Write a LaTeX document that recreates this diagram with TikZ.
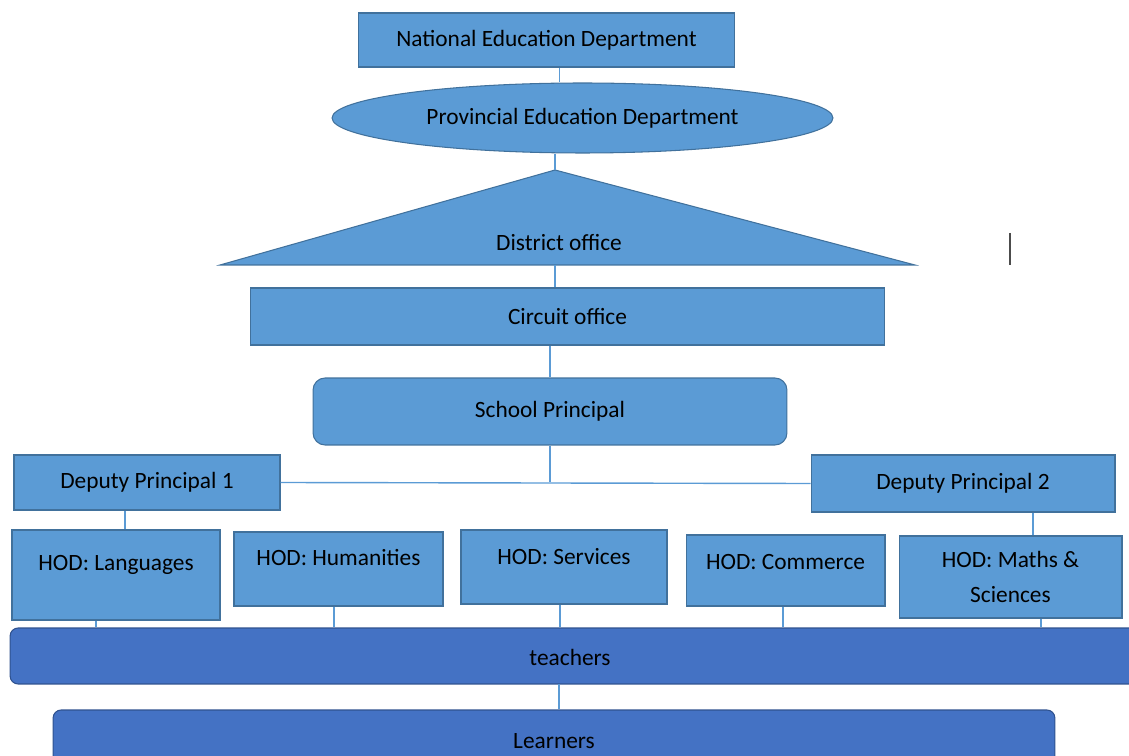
\documentclass[tikz,border=0pt]{standalone}
\usepackage{fontspec}
\setmainfont{Carlito}
\usetikzlibrary{shapes.geometric}
\usetikzlibrary{calc}
\definecolor{boxblue}{HTML}{5B9BD5}
\definecolor{boxedge}{HTML}{41719C}
\definecolor{darkblue}{HTML}{4472C4}
\definecolor{darkedge}{HTML}{2F528F}
\tikzset{
	box/.style = {draw = boxedge, fill = boxblue, line width = 0.6pt, inner sep = 0pt, align = center},
	lowbox/.style = {draw = darkedge, fill = darkblue, line width = 0.6pt, inner sep = 0pt, rounded corners = 0.16cm},
	link/.style = {boxblue, line width = 0.8pt}
}

\begin{document}
\begin{tikzpicture}[x = 0.02cm, y = -0.02cm, font = {\fontsize{13.3pt}{20}\selectfont}]
\useasboundingbox (0,0) rectangle (1129,756);
\clip (0,0) rectangle (1129,756);

\node[box, minimum width = 7.54cm, minimum height = 1.08cm] (NED) at (546.5, 40) {National Education Department};
\node[box, ellipse, minimum width = 10.02cm, minimum height = 1.4cm] (PED) at (582.5, 118) {Provincial Education Department};

% district office triangle
\coordinate (DOtop) at (555, 170);
\coordinate (DObase) at (555, 265);
\filldraw[draw = boxedge, fill = boxblue, line width = 0.6pt] (DOtop) -- (915, 265) -- (220, 265) -- cycle;
\node (DO) at (559, 243) {District office};

\node[box, minimum width = 12.7cm, minimum height = 1.14cm] (CO) at (567.5, 316.5) {Circuit office};
\node[box, rounded corners = 0.24cm, minimum width = 9.48cm, minimum height = 1.34cm] (SP) at (550, 411.5) {School Principal};

\node[box, minimum width = 5.32cm, minimum height = 1.1cm] (DP1) at (147, 482.5) {Deputy Principal 1};
\node[box, minimum width = 6.08cm, minimum height = 1.14cm] (DP2) at (963, 483.5) {Deputy Principal 2};

\node[box, minimum width = 4.16cm, minimum height = 1.8cm] (HL) at (116, 575) {};
\node[box, minimum width = 4.18cm, minimum height = 1.48cm] (HH) at (338.5, 569) {};
\node[box, minimum width = 4.12cm, minimum height = 1.48cm] (HS) at (564, 567) {};
\node[box, minimum width = 3.98cm, minimum height = 1.42cm] (HC) at (785.5, 570.5) {};
\node[box, minimum width = 4.46cm, minimum height = 1.64cm] (HM) at (1010.5, 577) {HOD: Maths \&\\Sciences};

\node (HL-txt) at ($(HL.north)+(0,35)$) {HOD: Languages};
\node (HH-txt) at ($(HH.north)+(0,26)$) {HOD: Humanities};
\node (HS-txt) at ($(HS.north)+(0,27)$) {HOD: Services};
\node (HC-txt) at ($(HC.north)+(0,28)$) {HOD: Commerce};

% teachers runs off the right edge
\node[lowbox, minimum width = 23cm, minimum height = 1.12cm] (TE) at (585, 656) {};
\node (TE-txt) at (570, 657) {teachers};
\node[lowbox, minimum width = 20.04cm, minimum height = 1.24cm] (LE) at (554, 741) {Learners};

% connectors
\coordinate (NED-out) at ($(NED.south)+(13,0)$);
\draw[link] (NED-out) -- (NED-out |- PED.north);
\draw[link] (PED.south -| DOtop) -- (DOtop);
\draw[link] (DObase) -- (DObase |- CO.north);
\draw[link] (SP.north |- CO.south) -- (SP.north);
\draw[link] (SP.south) -- (SP.south |- DP1.east);
\draw[link] (DP1.east) -- (DP2.west);

\coordinate (DP1-out) at ($(DP1.south)+(-22,0)$);
\draw[link] (DP1-out) -- (DP1-out |- HL.north);
\coordinate (DP2-out) at ($(DP2.south)+(70,0)$);
\draw[link] (DP2-out) -- (DP2-out |- HM.north);

\foreach \h/\dx in {HL/-20, HH/-4.5, HS/-4, HC/-2.5, HM/30.5} {
	\coordinate (\h-out) at ($(\h.south)+(\dx,0)$);
	\draw[link] (\h-out) -- (\h-out |- TE.north);
}

\coordinate (TE-out) at (559, 684);
\draw[link] (TE-out) -- (TE-out |- LE.north);

% stray mark
\draw[black!70, line width = 1.2pt] (1010, 233) -- (1010, 265);
\end{tikzpicture}
\end{document}
